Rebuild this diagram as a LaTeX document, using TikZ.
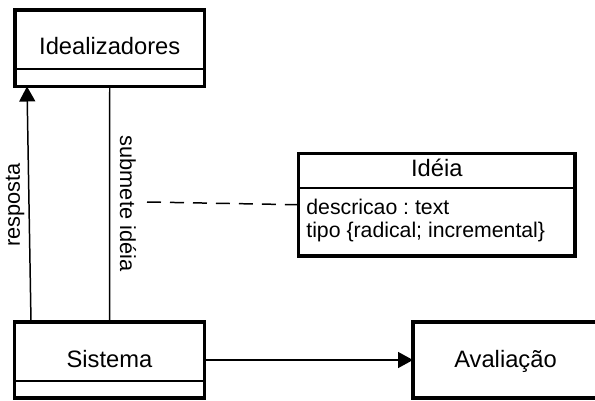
\documentclass[tikz,border=0pt]{standalone}
\usepackage{fontspec}
\setmainfont{Liberation Sans}
\usetikzlibrary{arrows.meta, positioning, calc}

\tikzstyle{classbox} = [rectangle, draw=black, line width=1.9pt, inner sep=0pt, outer sep=0pt]
\tikzstyle{classname} = [inner sep=0pt, anchor=base, font=\fontsize{13.5}{16}\selectfont]
\tikzstyle{attrib} = [inner sep=0pt, anchor=base west, font=\fontsize{12.1}{14.5}\selectfont]
\tikzstyle{linktext} = [inner sep=0pt, font=\fontsize{12.4}{15}\selectfont]
\tikzstyle{divider} = [line width=0.6pt]
\tikzstyle{assoc} = [line width=0.85pt]
\tikzstyle{arrow} = [line width=0.85pt, -{Triangle[length=0.3cm, width=0.32cm]}]
\tikzstyle{dashedlink} = [line width=0.85pt, dash pattern=on 0.28cm off 0.18cm]

\begin{document}
\frenchspacing
\begin{tikzpicture}
    \useasboundingbox (0,0) rectangle (11.9,-8);
    \clip (0,0) rectangle (11.9,-8);

    % Idealizadores
    \node[classbox, minimum width=3.79cm, minimum height=1.53cm] (ideal) at (2.195,-0.965) {};
    \node[classname] (idealname) at (2.195,-1.10) {Idealizadores};
    \draw[divider] ($(ideal.south west)+(0,0.35)$) -- ($(ideal.south east)+(0,0.35)$);

    % Ideia with its attributes
    \node[classbox, minimum width=5.53cm, minimum height=2.05cm] (ideia) at (8.735,-4.095) {};
    \node[classname] (ideianame) at (8.735,-3.52) {Idéia};
    \draw[divider] ($(ideia.north west)+(0,-0.69)$) -- ($(ideia.north east)+(0,-0.69)$);
    \node[attrib] (descattr) at (6.12,-4.28) {descricao : text};
    \node[attrib] (tipoattr) at (6.12,-4.74) {tipo \{radical; incremental\}};

    % Sistema
    \node[classbox, minimum width=3.8cm, minimum height=1.52cm] (sistema) at (2.19,-7.2) {};
    \node[classname] (sistemaname) at (2.19,-7.34) {Sistema};
    \draw[divider] ($(sistema.south west)+(0,0.34)$) -- ($(sistema.south east)+(0,0.34)$);

    % Avaliacao
    \node[classbox, minimum width=3.7cm, minimum height=1.52cm] (aval) at (10.11,-7.2) {};
    \node[classname] (avalname) at (10.11,-7.34) {Avaliação};

    % Links
    \draw[arrow] ($(sistema.north west)+(0.33,0)$) -- ($(ideal.south west)+(0.24,0)$);
    \node[linktext, rotate=90] (resplbl) at (0.30,-4.10) {resposta};

    \draw[assoc] (sistema.north) -- (ideal.south);
    \node[linktext, rotate=-90] (submlbl) at (2.56,-4.07) {submete idéia};

    \coordinate (dashstart) at (2.94,-4.04);
    \draw[dashedlink] (dashstart) -- (ideia.west);

    \draw[arrow] (sistema) -- (aval);
\end{tikzpicture}
\end{document}
